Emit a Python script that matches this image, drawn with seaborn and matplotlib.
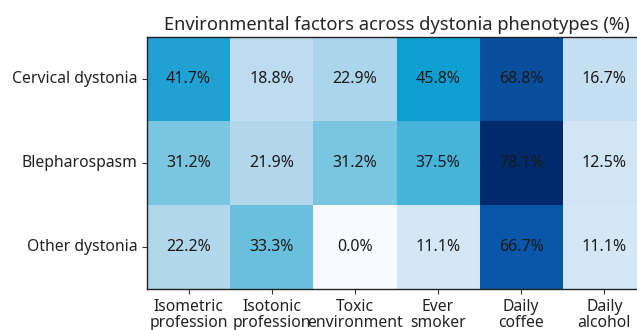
import numpy as np
import pandas as pd
import matplotlib
matplotlib.use("Agg")
import matplotlib.pyplot as plt
from matplotlib.colors import LinearSegmentedColormap
import seaborn as sns

phenotypes = ["Cervical dystonia", "Blepharospasm", "Other dystonia"]
factors = ["Isometric\nprofession", "Isotonic\nprofession", "Toxic\nenvironment",
           "Ever\nsmoker", "Daily\ncoffee", "Daily\nalcohol"]
cervical = [41.7, 18.8, 22.9, 45.8, 68.8, 16.7]
blepharospasm = [31.2, 21.9, 31.2, 37.5, 78.1, 12.5]
other = [22.2, 33.3, 0.0, 11.1, 66.7, 11.1]

df = pd.DataFrame([cervical, blepharospasm, other], index=phenotypes, columns=factors)
labels = df.map(lambda v: f"{v:.1f}%")
vmax = df.values.max()

# Vivid blue ramp, white at 0 to deep navy at the maximum
ramp = [(0.00, "#f7fbff"), (0.14, "#d4e7f6"), (0.21, "#c6e0f3"), (0.28, "#b2d7ec"),
        (0.40, "#7ac6e0"), (0.48, "#45b3d9"), (0.535, "#1fa0d4"), (0.59, "#0d9fd0"),
        (0.855, "#0a56a8"), (1.00, "#002a6c")]
cmap = LinearSegmentedColormap.from_list("vivid_blues", ramp)

sns.set_style("white")
plt.rcParams["font.family"] = ["Noto Sans", "DejaVu Sans"]

fig = plt.figure(figsize=(6.37, 3.30), dpi=100)
ax = fig.add_axes([147 / 637, 41 / 330, 499 / 637, 252 / 330])

sns.heatmap(df, ax=ax, cmap=cmap, vmin=0, vmax=vmax, cbar=False,
            annot=labels, fmt="", annot_kws={"color": "#1a1a1a", "fontsize": 11.5})

for s in ax.spines.values():
    s.set_visible(True)
    s.set_color("#222222")
    s.set_linewidth(1.0)

ax.set_title("Environmental factors across dystonia phenotypes (%)", fontsize=13.2, pad=5)
ax.set_xlabel("")
ax.set_ylabel("")
ax.tick_params(axis="both", which="both", length=3.5, width=0.8, color="#333333",
               labelsize=11.3, bottom=True, left=True, labelcolor="#222222")
ax.set_xticklabels(ax.get_xticklabels(), rotation=0, linespacing=1.0)
ax.set_yticklabels(ax.get_yticklabels(), rotation=0)

fig.savefig("out.png", dpi=100)
